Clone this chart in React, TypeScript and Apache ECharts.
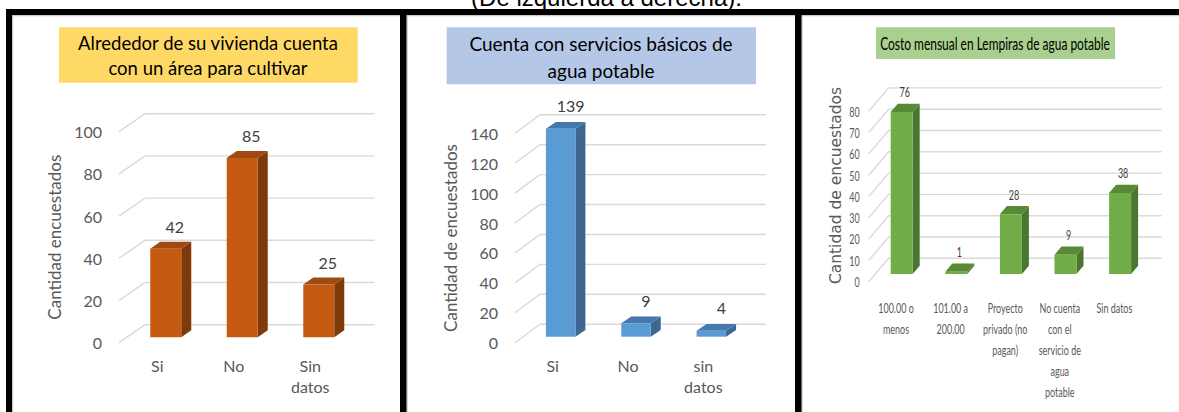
import React, { useEffect, useRef } from "react";
import * as echarts from "echarts";

// ---------- data ----------
const topNote = "(De izquierda a derecha).";

const title1 = "Alrededor de su vivienda cuenta\ncon un área para cultivar";
const yName1 = "Cantidad encuestados";
const cats1 = ["Si", "No", "Sin\ndatos"];
const vals1 = [42, 85, 25];
const ticks1 = [0, 20, 40, 60, 80, 100];

const title2 = "Cuenta con servicios básicos de\nagua potable";
const yName2 = "Cantidad de encuestados";
const cats2 = ["Si", "No", "sin\ndatos"];
const vals2 = [139, 9, 4];
const ticks2 = [0, 20, 40, 60, 80, 100, 120, 140];

const title3 = "Costo mensual en Lempiras de agua potable";
const yName3 = "Cantidad de encuestados";
const cats3 = [
  "100.00 o\nmenos",
  "101.00 a\n200.00",
  "Proyecto\nprivado (no\npagan)",
  "No cuenta\ncon el\nservicio de\nagua\npotable",
  "Sin datos",
];
const vals3 = [76, 1, 28, 9, 38];
const ticks3 = [0, 10, 20, 30, 40, 50, 60, 70, 80];

// ---------- styles ----------
const GRAY = "#595959";
const LBL = "#404040";
const GRID = "#D9D9D9";
const FONT = "Lato, 'Noto Sans', sans-serif";

type Panel = {
  cats: string[];
  vals: number[];
  ticks: number[];
  yName: string;
  grid: { left: number; top: number; width: number; height: number };
  max: number;
  interval: number;
  barDx: number;
  barDy: number;
  barW: number;
  depX: number;
  depY: number;
  wallX: number;
  wallY: number;
  lblDx: number;
  lblDy: number;
  front: string;
  top: string;
  side: string;
  fontSize: number;
  scaleX: number; // horizontal squeeze of texts (1 = axis labels drawn by the axes)
  yLabelMargin: number;
  xLabelMargin: number;
  xLineHeight: number;
  nameGap: number;
  nameFont: string;
  nameSize: number;
  namePad: number[];
};

const panels: Panel[] = [
  {
    cats: cats1, vals: vals1, ticks: ticks1, yName: yName1,
    grid: { left: 119, top: 131.7, width: 229.5, height: 211 },
    max: 100, interval: 20,
    barDx: 8.5, barDy: -5.4, barW: 31, depX: 10, depY: 7, wallX: 26, wallY: 18,
    lblDx: 9, lblDy: -22,
    front: "#C55A11", top: "#9E4A10", side: "#7F3A0B",
    fontSize: 16, scaleX: 1,
    yLabelMargin: 17, xLabelMargin: 12, xLineHeight: 21,
    nameGap: 56, nameFont: FONT, nameSize: 17, namePad: [0, 0, 0, 0],
  },
  {
    cats: cats2, vals: vals2, ticks: ticks2, yName: yName2,
    grid: { left: 515, top: 133.3, width: 226, height: 209.4 },
    max: 140, interval: 20,
    barDx: 8, barDy: -6, barW: 29.5, depX: 10, depY: 6.7, wallX: 25, wallY: 18.5,
    lblDx: 10, lblDy: -23,
    front: "#5B9BD5", top: "#4677AE", side: "#3D6690",
    fontSize: 16, scaleX: 1,
    yLabelMargin: 17, xLabelMargin: 12, xLineHeight: 21,
    nameGap: 56, nameFont: FONT, nameSize: 17, namePad: [0, 0, 0, 0],
  },
  {
    cats: cats3, vals: vals3, ticks: ticks3, yName: yName3,
    grid: { left: 868.7, top: 111.3, width: 273, height: 170.4 },
    max: 80, interval: 10,
    barDx: 5.7, barDy: -7.7, barW: 22, depX: 7, depY: 8.3, wallX: 20, wallY: 23.4,
    lblDx: 3, lblDy: -20,
    front: "#70AD47", top: "#578A35", side: "#4A7730",
    fontSize: 14, scaleX: 0.64,
    yLabelMargin: 9, xLabelMargin: 15, xLineHeight: 21,
    nameGap: 25, nameFont: "'DejaVu Sans', sans-serif", nameSize: 15.5, namePad: [0, 0, 0, 22],
  },
];

function buildOption() {
  const grid: any[] = [];
  const xAxis: any[] = [];
  const yAxis: any[] = [];
  const series: any[] = [];

  panels.forEach((p, gi) => {
    const squeezed = p.scaleX !== 1;
    grid.push({ ...p.grid });
    xAxis.push({
      type: "category",
      gridIndex: gi,
      data: p.cats,
      axisLine: { show: false },
      axisTick: { show: false },
      splitLine: { show: false },
      axisLabel: {
        show: !squeezed,
        interval: 0,
        margin: p.xLabelMargin,
        color: GRAY,
        fontSize: p.fontSize,
        fontFamily: FONT,
        lineHeight: p.xLineHeight,
      },
    });
    yAxis.push({
      type: "value",
      gridIndex: gi,
      min: 0,
      max: p.max,
      interval: p.interval,
      axisLine: { show: false },
      axisTick: { show: false },
      splitLine: { show: false },
      axisLabel: {
        show: !squeezed,
        margin: p.yLabelMargin,
        color: GRAY,
        fontSize: p.fontSize,
        fontFamily: FONT,
      },
      name: p.yName,
      nameLocation: "middle",
      nameGap: p.nameGap,
      nameTextStyle: {
        color: GRAY,
        fontSize: p.nameSize,
        fontFamily: p.nameFont,
        padding: p.namePad,
      },
    });

    const n = p.cats.length;
    // walls / gridlines (+ condensed tick labels for the squeezed panel)
    series.push({
      type: "custom",
      xAxisIndex: gi,
      yAxisIndex: gi,
      z: 1,
      silent: true,
      data: p.ticks.map((t) => [0, t]),
      renderItem: (params: any, api: any) => {
        const v = api.value(1);
        const c = api.coord([0, v]);
        const band = api.size([1, 0])[0];
        const xl = c[0] - band / 2;
        const xr = xl + band * n;
        const y = c[1];
        const children: any[] = [
          {
            type: "polyline",
            shape: {
              points: [
                [xl, y],
                [xl + p.wallX, y - p.wallY],
                [xr + p.wallX, y - p.wallY],
              ],
            },
            style: { stroke: GRID, lineWidth: 1.4, fill: null },
          },
        ];
        if (squeezed) {
          children.push({
            type: "text",
            x: xl - p.yLabelMargin,
            y: y,
            scaleX: p.scaleX,
            style: {
              text: String(v),
              align: "right",
              verticalAlign: "middle",
              fontSize: p.fontSize,
              fontFamily: FONT,
              fill: GRAY,
            },
          });
        }
        return { type: "group", children };
      },
    });
    // condensed category labels (drawn at the category axis positions)
    if (squeezed) {
      series.push({
        type: "custom",
        xAxisIndex: gi,
        yAxisIndex: gi,
        z: 3,
        silent: true,
        data: p.cats.map((c, i) => [i, 0]),
        renderItem: (params: any, api: any) => {
          const c = api.coord([api.value(0), 0]);
          return {
            type: "text",
            x: c[0],
            y: c[1] + p.xLabelMargin,
            scaleX: p.scaleX,
            style: {
              text: p.cats[params.dataIndex],
              align: "center",
              verticalAlign: "top",
              fontSize: p.fontSize,
              lineHeight: p.xLineHeight,
              fontFamily: FONT,
              fill: GRAY,
            },
          };
        },
      });
    }
    // 3D bars
    series.push({
      type: "custom",
      xAxisIndex: gi,
      yAxisIndex: gi,
      z: 2,
      silent: true,
      data: p.vals.map((v, i) => [i, v]),
      renderItem: (params: any, api: any) => {
        const i = api.value(0);
        const v = api.value(1);
        const b = api.coord([i, 0]);
        const t = api.coord([i, v]);
        const cx = b[0] + p.barDx;
        const yb = b[1] + p.barDy;
        const yt = t[1] + p.barDy;
        const x0 = cx - p.barW / 2;
        const x1 = cx + p.barW / 2;
        const dx = p.depX;
        const dy = p.depY;
        return {
          type: "group",
          children: [
            {
              type: "polygon",
              shape: { points: [[x1, yt], [x1 + dx, yt - dy], [x1 + dx, yb - dy], [x1, yb]] },
              style: { fill: p.side },
            },
            {
              type: "polygon",
              shape: { points: [[x0, yt], [x1, yt], [x1 + dx, yt - dy], [x0 + dx, yt - dy]] },
              style: { fill: p.top },
            },
            {
              type: "rect",
              shape: { x: x0, y: yt, width: p.barW, height: Math.max(yb - yt, 0.5) },
              style: { fill: p.front },
            },
            {
              type: "text",
              x: cx + p.lblDx,
              y: yt + p.lblDy,
              scaleX: p.scaleX,
              style: {
                text: String(v),
                align: "center",
                verticalAlign: "middle",
                fontSize: p.fontSize,
                fontFamily: FONT,
                fill: LBL,
              },
            },
          ],
        };
      },
    });
  });

  const graphic: any[] = [
    // top note (mostly hidden behind the border, as in the source)
    {
      type: "text",
      x: 606.5,
      y: -2.4,
      z: 50,
      style: {
        text: topNote,
        align: "center",
        verticalAlign: "middle",
        fontSize: 24,
        fontFamily: "'Liberation Sans', Arial, sans-serif",
        fill: "#000",
      },
    },
    // title boxes
    { type: "rect", z: 50, shape: { x: 59, y: 27.3, width: 298.7, height: 55.4 }, style: { fill: "#FFD966" } },
    {
      type: "text", z: 51, x: 208, y: 55.8,
      style: {
        text: title1, align: "center", verticalAlign: "middle",
        fontSize: 18.5, lineHeight: 25, fontFamily: FONT, fill: "#000",
      },
    },
    { type: "rect", z: 50, shape: { x: 446.7, y: 27.3, width: 309.3, height: 57 }, style: { fill: "#B4C7E7" } },
    {
      type: "text", z: 51, x: 601, y: 56.7,
      style: {
        text: title2, align: "center", verticalAlign: "middle",
        fontSize: 19, lineHeight: 26.7, fontFamily: FONT, fill: "#000",
      },
    },
    { type: "rect", z: 50, shape: { x: 876, y: 27.3, width: 239, height: 31.7 }, style: { fill: "#A9D08E" } },
    {
      type: "text", z: 51, x: 995, y: 43.3, scaleX: 0.725,
      style: {
        text: title3, align: "center", verticalAlign: "middle",
        fontSize: 16.5, fontFamily: FONT, fill: "#000",
      },
    },
    // frame
    { type: "rect", z: 60, shape: { x: 6, y: 15, width: 1173, height: 1.2 }, style: { fill: "#C8C8C8" } },
    { type: "rect", z: 60, shape: { x: 12, y: 15, width: 1.2, height: 397 }, style: { fill: "#C8C8C8" } },
    { type: "rect", z: 60, shape: { x: 406.5, y: 15, width: 1.2, height: 397 }, style: { fill: "#C8C8C8" } },
    { type: "rect", z: 60, shape: { x: 801.5, y: 15, width: 1.2, height: 397 }, style: { fill: "#C8C8C8" } },
    { type: "rect", z: 61, shape: { x: 6, y: 9, width: 1173, height: 6 }, style: { fill: "#000" } },
    { type: "rect", z: 61, shape: { x: 6, y: 9, width: 6, height: 403 }, style: { fill: "#000" } },
    { type: "rect", z: 61, shape: { x: 400, y: 9, width: 6.5, height: 403 }, style: { fill: "#000" } },
    { type: "rect", z: 61, shape: { x: 795, y: 9, width: 6.5, height: 403 }, style: { fill: "#000" } },
  ];

  return {
    animation: false,
    backgroundColor: "#ffffff",
    grid,
    xAxis,
    yAxis,
    series,
    graphic,
  };
}

export default function App() {
  const ref = useRef<HTMLDivElement>(null);
  useEffect(() => {
    if (!ref.current) return;
    const chart = echarts.init(ref.current, undefined, { renderer: "svg" });
    chart.setOption(buildOption() as any);
    return () => chart.dispose();
  }, []);
  return (
    <div
      ref={ref}
      style={{ position: "fixed", left: 0, top: 0, width: 1179, height: 412, background: "#fff" }}
    />
  );
}
